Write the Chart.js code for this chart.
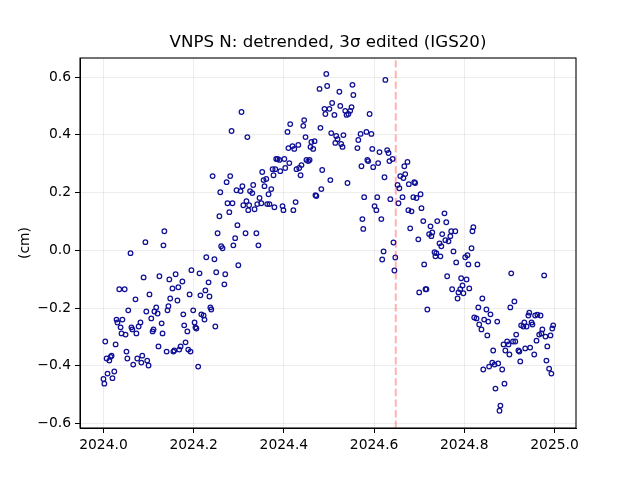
<!DOCTYPE html>
<html>
<head>
<meta charset="utf-8">
<style>html,body{margin:0;padding:0;background:#fff}canvas{display:block}</style>
<script src="https://cdn.jsdelivr.net/npm/chart.js@4/dist/chart.umd.min.js"></script>
</head>
<body>
<canvas id="c" width="640" height="480"></canvas>
<script>
const chartTitle = "VNPS N: detrended, 3σ edited (IGS20)";
const yLabel = "(cm)";
const eventEpoch = [2024.648];
const xTicks = [2024.0, 2024.2, 2024.4, 2024.6, 2024.8, 2025.0];
const yTicks = [-0.6, -0.4, -0.2, 0.0, 0.2, 0.4, 0.6];
const epochs = [
2024.273,2024.308,2024.295,2024.304,2024.259,2024.325,2024.317,2024.275,2024.286,2024.310,
2024.323,2024.321,2024.279,2024.257,2024.297,2024.135,2024.253,2024.315,2024.292,2024.093,
2024.261,2024.264,2024.288,2024.133,2024.060,2024.228,2024.246,2024.299,2024.195,2024.213,
2024.250,2024.160,2024.270,2024.089,2024.124,2024.146,2024.175,2024.233,2024.268,2024.153,
2024.166,2024.035,2024.047,2024.226,2024.102,2024.191,2024.215,2024.235,2024.071,2024.148,
2024.164,2024.144,2024.117,2024.237,2024.239,2024.142,2024.199,2024.055,2024.095,2024.113,
2024.120,2024.177,2024.217,2024.222,2024.106,2024.029,2024.042,2024.224,2024.031,2024.082,
2024.202,2024.129,2024.078,2024.179,2024.248,2024.038,2024.062,2024.204,2024.206,2024.064,
2024.111,2024.109,2024.186,2024.040,2024.049,2024.073,2024.131,2024.004,2024.027,2024.182,
2024.122,2024.171,2024.168,2024.188,2024.193,2024.051,2024.140,2024.157,2024.155,2024.018,
2024.086,2024.007,2024.016,2024.013,2024.053,2024.075,2024.097,2024.084,2024.066,2024.100,
2024.210,2024.024,2024.009,2024.000,2024.020,2024.002,
2024.494,2024.625,2024.552,2024.496,2024.479,2024.523,2024.554,2024.507,2024.525,2024.550,
2024.490,2024.501,2024.536,2024.547,2024.306,2024.492,2024.512,2024.590,2024.539,2024.543,
2024.445,2024.414,2024.443,2024.481,2024.408,2024.505,2024.570,2024.583,2024.594,2024.516,
2024.532,2024.319,2024.448,2024.519,2024.565,2024.461,2024.468,2024.514,2024.527,2024.530,
2024.410,2024.419,2024.432,2024.423,2024.459,2024.465,2024.563,2024.596,2024.612,2024.629,
2024.632,2024.641,2024.634,2024.585,2024.587,2024.386,2024.383,2024.390,2024.401,2024.450,
2024.457,2024.454,2024.412,2024.439,2024.609,2024.572,2024.598,2024.667,2024.674,2024.375,
2024.381,2024.403,2024.428,2024.434,2024.392,2024.485,2024.352,2024.377,2024.437,2024.623,
2024.669,2024.658,2024.665,2024.361,2024.355,2024.503,2024.541,2024.652,2024.332,2024.357,
2024.656,2024.677,2024.372,2024.330,2024.483,2024.366,2024.470,2024.472,2024.578,2024.607,
2024.663,2024.346,2024.636,2024.426,2024.654,2024.341,2024.350,2024.363,2024.368,2024.397,
2024.379,2024.601,2024.399,2024.335,2024.421,2024.605,2024.676,2024.574,2024.616,2024.576,
2024.680,2024.643,2024.621,2024.618,2024.647,2024.645,2024.242,2024.281,2024.284,2024.339,2024.3435,
2024.689,2024.691,2024.703,2024.687,2024.694,2024.705,2024.683,2024.756,2024.709,2024.740,
2024.760,2024.725,2024.820,2024.818,2024.771,2024.780,2024.729,2024.751,2024.722,2024.727,
2024.769,2024.698,2024.758,2024.765,2024.745,2024.749,2024.816,2024.776,2024.734,2024.738,
2024.807,2024.736,2024.747,2024.802,2024.782,2024.711,2024.809,2024.829,2024.904,2024.977,
2024.762,2024.793,2024.805,2024.796,2024.773,2024.791,2024.811,2024.714,2024.716,2024.700,
2024.787,2024.798,2024.785,2024.840,2024.911,2024.831,2024.902,2024.718,2024.849,2024.858,
2024.944,2024.942,2024.957,2024.962,2024.969,2024.822,2024.827,2024.844,2024.853,2024.873,
2024.933,2024.949,2024.833,2024.951,2024.926,2024.931,2024.938,2024.997,2024.995,2024.838,
2024.973,2024.915,2024.971,2024.966,2024.851,2024.980,2024.991,2024.960,2024.895,2024.908,
2024.913,2024.887,2024.898,2024.984,2024.935,2024.946,2024.864,2024.891,2024.920,2024.922,
2024.900,2024.955,2024.982,2024.924,2024.862,2024.875,2024.867,2024.855,2024.842,2024.884,
2024.988,2024.993,2024.889,2024.869,2024.880,2024.878
];
const northCm = [
.236,.222,.208,.205,.201,.205,.170,.163,.163,.156,
.156,.139,.132,.118,.087,.066,.059,.059,.042,.028,
.014,.007,.017,.017,-.010,-.024,-.031,-.052,-.069,-.080,
-.076,-.083,-.083,-.094,-.090,-.101,-.108,-.111,-.118,-.132,
-.128,-.135,-.135,-.139,-.153,-.153,-.156,-.160,-.170,-.167,
-.174,-.194,-.198,-.198,-.205,-.208,-.208,-.208,-.212,-.212,
-.219,-.222,-.222,-.226,-.236,-.240,-.240,-.240,-.250,-.250,
-.250,-.253,-.264,-.260,-.264,-.267,-.267,-.267,-.271,-.274,
-.274,-.281,-.281,-.288,-.292,-.288,-.288,-.316,-.326,-.319,
-.333,-.333,-.344,-.344,-.351,-.351,-.351,-.347,-.351,-.365,
-.365,-.375,-.369,-.382,-.375,-.375,-.382,-.389,-.396,-.399,
-.403,-.420,-.427,-.446,-.443,-.462,
.611,.590,.573,.569,.559,.549,.538,.510,.500,.496,
.490,.490,.483,.483,.479,.472,.469,.472,.469,.472,
.451,.437,.431,.424,.410,.406,.403,.410,.403,.396,
.399,.392,.392,.385,.382,.375,.378,.372,.368,.358,
.354,.361,.365,.351,.358,.351,.354,.351,.340,.347,
.337,.316,.309,.313,.309,.316,.316,.313,.316,.313,
.313,.309,.302,.295,.302,.291,.288,.291,.306,.281,
.281,.285,.281,.285,.274,.278,.271,.260,.260,.253,
.264,.257,.250,.247,.243,.243,.233,.226,.226,.222,
.215,.229,.212,.198,.212,.194,.191,.188,.184,.184,
.184,.181,.177,.167,.163,.160,.163,.160,.160,.153,
.149,.153,.139,.142,.139,.139,.139,.108,.108,.074,
.076,.027,-.004,-.032,-.025,-.070,.257,.257,.413,.059,.017,
.236,.233,.194,.184,.181,.146,.135,.128,.101,.101,
.097,.083,.080,.066,.066,.066,.062,.056,.056,.049,
.049,.038,.035,.031,.024,.014,.007,-.004,-.007,-.010,
-.017,-.021,-.021,-.024,-.042,-.049,-.049,-.049,-.080,-.087,
-.090,-.097,-.101,-.122,-.135,-.135,-.132,-.135,-.135,-.146,
-.146,-.149,-.167,-.167,-.177,-.198,-.198,-.205,-.205,-.222,
-.216,-.226,-.226,-.223,-.226,-.233,-.236,-.240,-.247,-.247,
-.250,-.250,-.257,-.257,-.260,-.264,-.264,-.260,-.271,-.274,
-.274,-.292,-.288,-.292,-.295,-.299,-.295,-.313,-.316,-.316,
-.316,-.326,-.326,-.333,-.340,-.337,-.347,-.347,-.347,-.351,
-.361,-.361,-.382,-.385,-.389,-.392,-.396,-.403,-.413,-.413,
-.410,-.427,-.462,-.479,-.538,-.556
];

const xMin = 2023.948, xMax = 2025.0476, yMin = -0.6156, yMax = 0.666;
const FONT = "'DejaVu Sans'";
const points = epochs.map((x, i) => ({x, y: northCm[i]}));
const frame = {
  id: 'frame',
  afterDraw(chart) {
    const a = chart.chartArea, g = chart.ctx;
    g.save();
    g.strokeStyle = '#000';
    g.lineWidth = 1.1;
    g.strokeRect(a.left, a.top, a.right - a.left, a.bottom - a.top);
    g.restore();
  }
};
new Chart(document.getElementById('c'), {
  type: 'scatter',
  data: {
    datasets: [
      {
        type: 'line',
        data: [{x: eventEpoch[0], y: yMin}, {x: eventEpoch[0], y: yMax}],
        borderColor: 'rgba(255,0,0,0.3)',
        borderWidth: 2,
        borderDash: [7.4, 3.2],
        pointRadius: 0,
        fill: false,
        order: 0
      },
      {
        data: points,
        showLine: false,
        pointRadius: 2.3,
        pointBorderWidth: 1.25,
        pointBackgroundColor: 'rgba(255,255,255,0)',
        pointBorderColor: 'rgb(16,16,150)',
        order: 1
      }
    ]
  },
  plugins: [frame],
  options: {
    responsive: false,
    animation: false,
    layout: {padding: {left: 0, right: 64, top: 0, bottom: 0}},
    plugins: {
      legend: {display: false},
      tooltip: {enabled: false},
      title: {
        display: true,
        fullSize: false,
        text: chartTitle,
        color: '#000',
        font: {family: FONT, size: 16.67, weight: 'normal'},
        padding: {top: 33, bottom: 5},
        align: 'center'
      }
    },
    scales: {
      x: {
        type: 'linear',
        min: xMin, max: xMax,
        afterFit(s) { s.height = 52; },
        afterBuildTicks(s) { s.ticks = xTicks.map(value => ({value})); },
        border: {color: '#000', width: 1},
        grid: {color: 'rgba(0,0,0,0.07)', lineWidth: 1, tickColor: '#000', tickLength: 5, tickWidth: 1},
        ticks: {
          color: '#000', maxRotation: 0, autoSkip: false, padding: 4,
          font: {family: FONT, size: 13.89},
          callback: v => v.toFixed(1)
        }
      },
      y: {
        min: yMin, max: yMax,
        afterFit(s) { s.width = 80; },
        afterBuildTicks(s) { s.ticks = yTicks.map(value => ({value})); },
        border: {color: '#000', width: 1},
        grid: {color: 'rgba(0,0,0,0.07)', lineWidth: 1, tickColor: '#000', tickLength: 5, tickWidth: 1},
        title: {
          display: true, text: yLabel, color: '#000',
          font: {family: FONT, size: 13.89},
          padding: {top: 17, bottom: 0}
        },
        ticks: {
          color: '#000', autoSkip: false, padding: 4,
          font: {family: FONT, size: 13.89},
          callback: v => v.toFixed(1).replace('-', '\u2212')
        }
      }
    }
  }
});
</script>
</body>
</html>
